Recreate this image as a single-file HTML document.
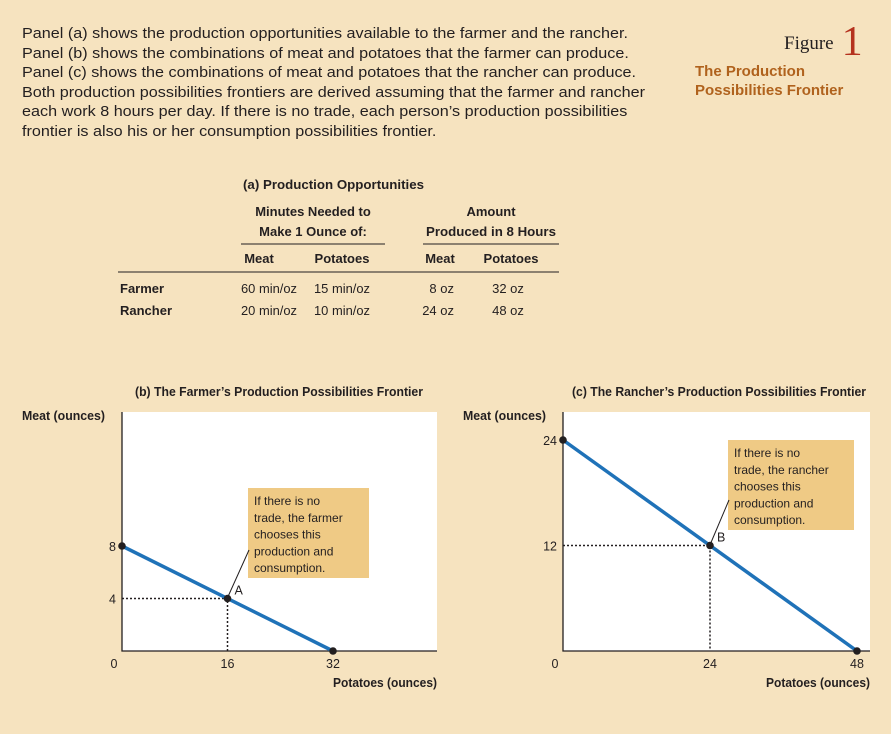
<!DOCTYPE html>
<html><head><meta charset="utf-8">
<style>
body{margin:0;width:891px;height:734px;background:#f6e3bf;font-family:"Liberation Sans",sans-serif;position:relative;overflow:hidden;color:#231f20}
.abs{position:absolute}
#intro{left:22px;top:25px;width:620px;font-size:14.8px;line-height:19.6px;white-space:nowrap;transform:scaleX(1.093);transform-origin:0 0}
#fig{left:784px;top:18px;font-family:"Liberation Serif",serif;font-size:19px}
#fig span{font-size:42px;color:#b5321e;vertical-align:-6px;margin-left:8px}
#ftitle{left:695px;top:62px;color:#b0621d;font-weight:bold;font-size:15px;line-height:19px}
</style></head><body>
<div class="abs" id="intro">Panel (a) shows the production opportunities available to the farmer and the rancher.<br>Panel (b) shows the combinations of meat and potatoes that the farmer can produce.<br>Panel (c) shows the combinations of meat and potatoes that the rancher can produce.<br>Both production possibilities frontiers are derived assuming that the farmer and rancher<br>each work 8 hours per day. If there is no trade, each person’s production possibilities<br>frontier is also his or her consumption possibilities frontier.</div>
<div class="abs" id="fig">Figure<span>1</span></div>
<div class="abs" id="ftitle">The Production<br>Possibilities Frontier</div>

<svg class="abs" style="left:0;top:0" width="891" height="734" font-family="Liberation Sans, sans-serif" font-size="13" fill="#231f20">
<text x="243" y="189" font-weight="bold" font-size="12.5" textLength="181" lengthAdjust="spacingAndGlyphs">(a) Production Opportunities</text>
<g font-weight="bold" text-anchor="middle">
<text x="313" y="216">Minutes Needed to</text><text x="313" y="236">Make 1 Ounce of:</text>
<text x="491" y="216">Amount</text><text x="491" y="236" textLength="130" lengthAdjust="spacingAndGlyphs">Produced in 8 Hours</text>
<text x="259" y="263">Meat</text><text x="342" y="263">Potatoes</text>
<text x="440" y="263">Meat</text><text x="511" y="263">Potatoes</text>
</g>
<line x1="241" y1="244" x2="385" y2="244" stroke="#231f20"/>
<line x1="423" y1="244" x2="559" y2="244" stroke="#231f20"/>
<line x1="118" y1="272" x2="559" y2="272" stroke="#231f20"/>
<text x="120" y="293" font-weight="bold">Farmer</text><text x="120" y="315" font-weight="bold">Rancher</text>
<text x="241" y="293" textLength="56" lengthAdjust="spacingAndGlyphs">60 min/oz</text><text x="314" y="293" textLength="56" lengthAdjust="spacingAndGlyphs">15 min/oz</text><text x="454" y="293" text-anchor="end">8 oz</text><text x="508" y="293" text-anchor="middle">32 oz</text>
<text x="241" y="315" textLength="56" lengthAdjust="spacingAndGlyphs">20 min/oz</text><text x="314" y="315" textLength="56" lengthAdjust="spacingAndGlyphs">10 min/oz</text><text x="454" y="315" text-anchor="end">24 oz</text><text x="508" y="315" text-anchor="middle">48 oz</text>
</svg>

<svg id="charts" class="abs" style="left:0;top:0" width="891" height="734" font-family="Liberation Sans, sans-serif" font-size="12.5" fill="#231f20"></svg>
<script>
// Panel (b) farmer
const farmerMeatMax = 8, farmerPotMax = 32;
const farmerXTicks = [0, 16, 32], farmerYTicks = [8, 4];
const farmerPoint = [16, 4];
// Panel (c) rancher
const rancherMeatMax = 24, rancherPotMax = 48;
const rancherXTicks = [0, 24, 48], rancherYTicks = [24, 12];
const rancherPoint = [24, 12];

const svg = document.getElementById('charts');
const NS = 'http://www.w3.org/2000/svg';
function mk(tag, at, parent, txt){const e=document.createElementNS(NS,tag);for(const k in at)e.setAttribute(k,at[k]);if(txt!==undefined)e.textContent=txt;(parent||svg).appendChild(e);return e;}

function panel(cfg){
  const g = mk('g',{});
  
  
  const X = v => cfg.x0 + v*cfg.sx, Y = v => cfg.y0 - v*cfg.sy;
  const bg = mk('rect',{x:cfg.x0,y:cfg.top,width:cfg.right-cfg.x0,height:cfg.y0-cfg.top,fill:'#fff'},g);
  
  
  mk('path',{d:`M${cfg.x0} ${cfg.top}V${cfg.y0}H${cfg.right}`,stroke:'#231f20','stroke-width':1.3,fill:'none'},g);
  const t = mk('text',{x:cfg.titleX,y:396,'font-weight':'bold','font-size':13,textLength:cfg.titleW,lengthAdjust:'spacingAndGlyphs'},g,cfg.title);
  
  
  const yt = mk('text',{x:cfg.ylabX,y:420,'font-weight':'bold','font-size':13,textLength:83,lengthAdjust:'spacingAndGlyphs'},g,'Meat (ounces)');
  
  
  const xt = mk('text',{x:cfg.right-104,y:687,'font-weight':'bold','font-size':13,textLength:104,lengthAdjust:'spacingAndGlyphs'},g,'Potatoes (ounces)');
  
  
  cfg.xt.forEach(v=>{const e=mk('text',{x:X(v)-(v===0?8:0),y:668,'text-anchor':'middle'},g,v);
    
    });
  cfg.yt.forEach(v=>{const e=mk('text',{x:cfg.x0-6,y:Y(v)+5,'text-anchor':'end'},g,v);
    
    });
  const [px,py]=cfg.pt;
  mk('path',{d:`M${cfg.x0} ${Y(py)}H${X(px)}V${cfg.y0}`,stroke:'#231f20','stroke-width':1.5,'stroke-dasharray':'2 2',fill:'none'},g);
  const ln = mk('line',{x1:X(0),y1:Y(cfg.my),x2:X(cfg.mx),y2:Y(0),stroke:'#1f72b8','stroke-width':3.5},g);
  
  
  [[0,cfg.my],[cfg.mx,0],[px,py]].forEach(p=>{const c=mk('circle',{cx:X(p[0]),cy:Y(p[1]),r:3.8,fill:'#231f20'},g);
    
    });
  mk('text',{x:X(px)+7,y:Y(py)-4},g,cfg.label);
  const b=cfg.box;
  const br = mk('rect',{x:b[0],y:b[1],width:b[2],height:b[3],fill:'#efca85'},g);
  
  
  cfg.lines.forEach((s,i)=>mk('text',{x:b[0]+6,y:b[1]+17+i*16.8,'font-size':12},g,s));
  mk('line',{x1:X(px)+1,y1:Y(py)-3,x2:b[0]+1,y2:cfg.leadY},g).setAttribute('stroke','#231f20');
}
panel({name:'farmer-ppf-chart',x0:122,y0:651,top:412,right:437,sx:211/farmerPotMax,sy:105/farmerMeatMax,
  mx:farmerPotMax,my:farmerMeatMax,xt:farmerXTicks,yt:farmerYTicks,pt:farmerPoint,label:'A',
  title:'(b) The Farmer’s Production Possibilities Frontier',titleX:135,titleW:288,ylabX:22,
  box:[248,488,121,90],leadY:550,lines:['If there is no','trade, the farmer','chooses this','production and','consumption.']});
panel({name:'rancher-ppf-chart',x0:563,y0:651,top:412,right:870,sx:294/rancherPotMax,sy:211/rancherMeatMax,
  mx:rancherPotMax,my:rancherMeatMax,xt:rancherXTicks,yt:rancherYTicks,pt:rancherPoint,label:'B',
  title:'(c) The Rancher’s Production Possibilities Frontier',titleX:572,titleW:294,ylabX:463,
  box:[728,440,126,90],leadY:500,lines:['If there is no','trade, the rancher','chooses this','production and','consumption.']});
</script>
</body></html>
